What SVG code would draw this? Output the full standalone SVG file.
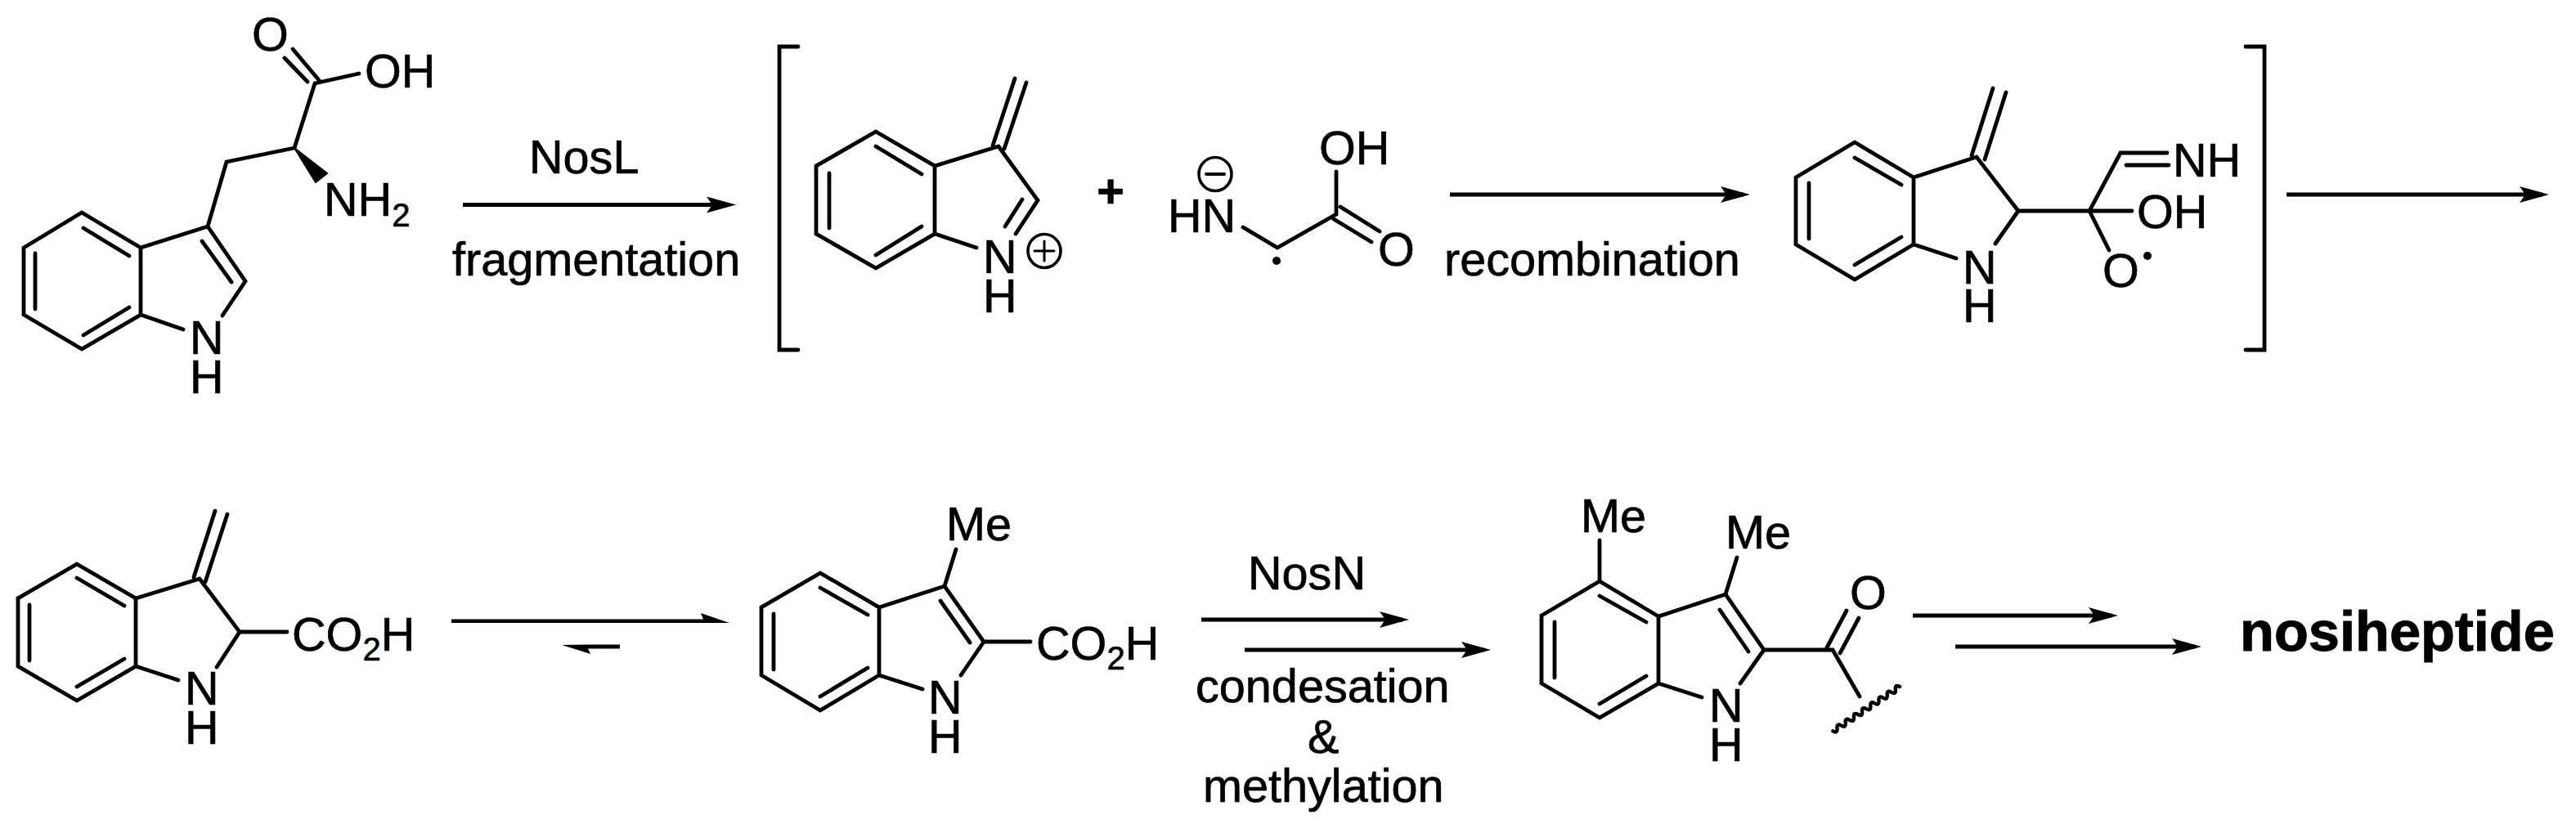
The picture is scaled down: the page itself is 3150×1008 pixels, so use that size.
<svg xmlns="http://www.w3.org/2000/svg" width="3150" height="1008" viewBox="0 0 3150 1008">
<style>
.b{fill:none;stroke:#000;stroke-width:4.8;stroke-linejoin:miter;stroke-linecap:round}
.a{fill:none;stroke:#000;stroke-width:5}
.t{font-family:"Liberation Sans",Arial,sans-serif;font-size:57.6px;fill:#000;stroke:#000;stroke-width:.7}
.s{font-size:40px}
.k{font-family:"Liberation Sans",Arial,sans-serif;font-size:68.6px;font-weight:700;fill:#000;stroke:#000;stroke-width:1}
</style>
<defs>
<marker id="h" markerUnits="userSpaceOnUse" markerWidth="36" markerHeight="20" viewBox="0 0 36 20" refX="28" refY="10" orient="auto"><path d="M0,0L36,10L0,20L7,10z" fill="#000"/></marker>
</defs>
<rect width="3150" height="1008" fill="#fff"/>
<g id="tryptophan">
<path class="b" d="M100,260L172,303V385L100,427L29,385V303ZM102,279L158,313M43,310V378M102,410L158,376M172,303L254,277L300,344L272,386M247,295L283,345M172,385L224,403M254,277L277,198L360,181L385,102L439,90M348,71L376,100M358,60L390,98"/>
<path d="M360,181L400,212L386,223Z" fill="#000" stroke="#000" stroke-width="2"/>
<text class="t" x="308" y="62">O</text>
<text class="t" x="446" y="107">OH</text>
<text class="t" x="396" y="264">NH<tspan class="s" dy="13">2</tspan></text>
<text class="t" x="232" y="433">N</text>
<text class="t" x="232" y="481">H</text>
</g>
<g id="bracket-left"><path class="b" d="M976,57H953V428H976" stroke-linecap="butt"/></g>
<g id="indole-cation">
<path class="b" d="M1071,161L1143,203V286L1071,328L998,286V203ZM1071,179L1127,213M1014,212V279M1071,312L1127,277M1143,203L1221,179L1269,245L1242,286M1250,244L1229,277M1143,286L1194,303M1214,178L1241,96M1228,182L1255,101"/>
<text class="t" x="1202" y="334">N</text>
<text class="t" x="1202" y="382">H</text>
<ellipse class="b" cx="1277" cy="307" rx="20" ry="20.5" style="stroke-width:3.6"/>
<path class="b" d="M1265,307H1289M1277,295V319" style="stroke-width:3"/>
</g>
<text id="plus" class="t" x="1358" y="254" text-anchor="middle" style="font-weight:700">+</text>
<g id="glycine-radical">
<path class="b" d="M1520,278L1562,303L1634,262V210M1639,253L1687,283M1631,268L1677,296"/>
<circle cx="1561" cy="319" r="5" fill="#000"/>
<text class="t" x="1428" y="284">HN</text>
<ellipse class="b" cx="1486" cy="213" rx="20" ry="20.5" style="stroke-width:3.6"/>
<path class="b" d="M1475,213H1497" style="stroke-width:4"/>
<text class="t" x="1613" y="201">OH</text>
<text class="t" x="1685" y="325">O</text>
</g>
<g id="recombination-intermediate">
<path class="b" d="M2268,174L2340,217V299L2268,342L2196,299V217ZM2268,193L2325,226M2212,224V292M2268,324L2325,290M2340,217L2417,192L2468,258L2440,298M2340,299L2392,316M2411,190L2437,108M2427,195L2453,113M2468,258H2607M2555,258L2593,187H2650M2600,202H2652M2555,258L2579,306"/>
<text class="t" x="2657" y="216">NH</text>
<text class="t" x="2613" y="279">OH</text>
<text class="t" x="2571" y="351">O</text>
<circle cx="2626" cy="313" r="5" fill="#000"/>
<text class="t" x="2400" y="347">N</text>
<text class="t" x="2400" y="394">H</text>
</g>
<g id="bracket-right"><path class="b" d="M2746,57H2769V428H2746" stroke-linecap="butt"/></g>
<g id="methylene-indoline">
<path class="b" d="M94,690L166,732V815L94,857L22,815V732ZM94,707L152,741M36,740V808M94,840L152,806M166,732L244,708L293,773L265,816M166,815L218,832M237,706L263,625M251,712L278,629M293,773H351"/>
<text class="t" x="226" y="862">N</text>
<text class="t" x="226" y="910">H</text>
<text class="t" x="357" y="796">CO<tspan class="s" dy="12">2</tspan><tspan dy="-12">H</tspan></text>
</g>
<g id="methylindole-acid">
<path class="b" d="M1003,701L1075,743V826L1003,869L931,826V743ZM1003,719L1061,752M946,751V819M1003,852L1061,817M1075,743L1155,717L1203,785L1175,826M1150,735L1186,786M1075,826L1128,843M1155,717L1169,672M1203,785H1260"/>
<text class="t" x="1157" y="661">Me</text>
<text class="t" x="1267" y="807">CO<tspan class="s" dy="12">2</tspan><tspan dy="-12">H</tspan></text>
<text class="t" x="1135" y="873">N</text>
<text class="t" x="1135" y="921">H</text>
</g>
<g id="dimethylindole-acyl">
<path class="b" d="M1956,711L2028,754V836L1956,878L1885,836V753ZM1956,729L2013,761M1901,761V829M1956,861L2013,827M1956,711V661M2028,754L2110,727L2157,795L2128,836M2110,727L2124,682M2103,746L2138,797M2028,836L2081,853M2157,795H2241L2274,852M2233,794L2258,747M2250,799L2273,756"/>
<path class="b" style="stroke-width:4.4" d="M2323,840q-5.85,-3.3 -5.1,3.4t-5.1,3.4t-5.1,3.4t-5.1,3.4t-5.1,3.4t-5.1,3.4t-5.1,3.4t-5.1,3.4t-5.1,3.4t-5.1,3.4t-5.1,3.4t-5.1,3.4t-5.1,3.4t-5.1,3.4t-5.1,3.4t-5.1,3.4"/>
<text class="t" x="1933" y="651">Me</text>
<text class="t" x="2110" y="671">Me</text>
<text class="t" x="2262" y="745">O</text>
<text class="t" x="2090" y="883">N</text>
<text class="t" x="2090" y="931">H</text>
</g>
<g id="nosiheptide"><text class="k" x="2739" y="796">nosiheptide</text></g>
<g id="connectors">
<path class="a" marker-end="url(#h)" d="M566,250.5H892"/>
<path class="a" marker-end="url(#h)" d="M1773,238H2132"/>
<path class="a" marker-end="url(#h)" d="M2796,238H3109"/>
<path d="M552,757.5H860L857,750L892,762H552Z" fill="#000"/>
<path d="M758,788.5H719L687,789L722,800L719,793.5H758Z" fill="#000"/>
<path class="a" marker-end="url(#h)" d="M1469,758H1715"/>
<path class="a" marker-end="url(#h)" d="M1522,795H1815"/>
<path class="a" marker-end="url(#h)" d="M2339,753H2582"/>
<path class="a" marker-end="url(#h)" d="M2391,791H2684"/>
</g>
<g id="labels">
<text class="t" x="647" y="212">NosL</text>
<text class="t" x="553" y="337">fragmentation</text>
<text class="t" x="1766" y="337">recombination</text>
<text class="t" x="1526" y="721">NosN</text>
<text class="t" x="1462" y="859">condesation</text>
<text class="t" x="1599" y="921">&amp;</text>
<text class="t" x="1471" y="981">methylation</text>
</g>
</svg>
